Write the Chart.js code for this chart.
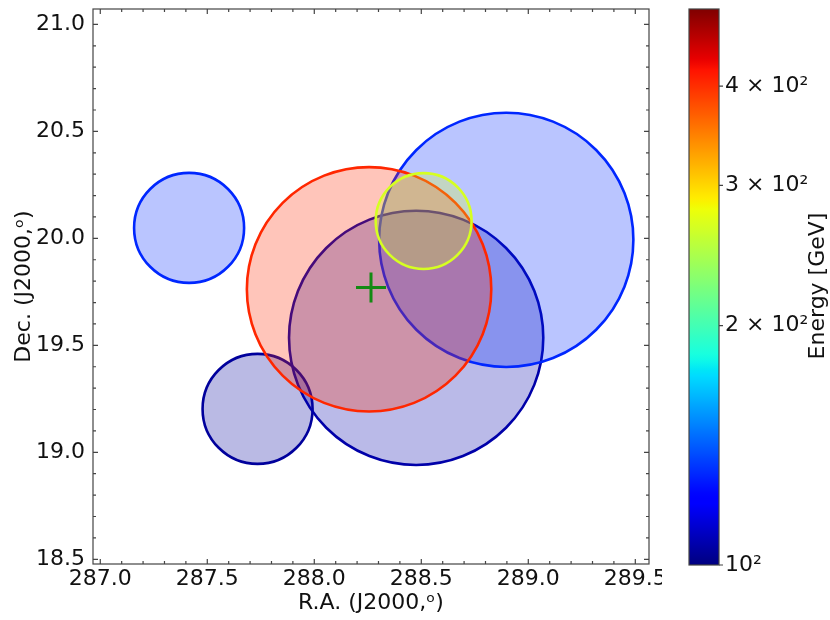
<!DOCTYPE html>
<html>
<head>
<meta charset="utf-8">
<script src="https://cdn.jsdelivr.net/npm/chart.js@4.4.0/dist/chart.umd.min.js"></script>
<style>
  body { margin: 0; background: #fff; }
  #wrap { position: relative; width: 830px; height: 620px; }
  #main { position: absolute; left: 0; top: 0; width: 662px; height: 620px; }
  #cbar { position: absolute; left: 662px; top: 0; width: 168px; height: 620px; }
</style>
</head>
<body>
<div id="wrap">
  <div id="main"><canvas id="skyChart"></canvas></div>
  <div id="cbar"><canvas id="energyBar"></canvas></div>
</div>
<script>
// event regions: centre (deg), radius (deg) and energy (GeV), in drawing order
const raCentres  = [287.415, 287.735, 288.476, 288.897, 288.256, 288.511];
const decCentres = [20.049, 19.203, 19.535, 19.993, 19.762, 20.081];
const radii      = [0.257, 0.257, 0.594, 0.594, 0.571, 0.224];
const energies   = [130, 104, 106, 130, 405, 267];

// source position
const srcRa  = [288.265];
const srcDec = [19.770];

// axis ranges
const raMin = 286.966, raMax = 289.564;
const decMin = 18.478, decMax = 21.072;

// colour bar
const eMin = 100, eMax = 500;
const cbarTicks  = [100, 200, 300, 400];
const cbarLabels = ['10²', '2 × 10²', '3 × 10²', '4 × 10²'];

Chart.defaults.font.family = '"DejaVu Sans", sans-serif';
Chart.defaults.font.size = 22;
Chart.defaults.color = '#111';

// matplotlib "jet" segment data
const jetData = {
  r: [[0, 0], [0.35, 0], [0.66, 1], [0.89, 1], [1, 0.5]],
  g: [[0, 0], [0.125, 0], [0.375, 1], [0.64, 1], [0.91, 0], [1, 0]],
  b: [[0, 0.5], [0.11, 1], [0.34, 1], [0.65, 0], [1, 0]]
};

function segment(pts, t) {
  for (let i = 1; i < pts.length; i++) {
    if (t <= pts[i][0]) {
      const [t0, v0] = pts[i - 1], [t1, v1] = pts[i];
      return v0 + (v1 - v0) * (t - t0) / (t1 - t0);
    }
  }
  return pts[pts.length - 1][1];
}

function jet(t, alpha) {
  t = Math.min(1, Math.max(0, t || 0));
  const r = Math.round(255 * segment(jetData.r, t));
  const g = Math.round(255 * segment(jetData.g, t));
  const b = Math.round(255 * segment(jetData.b, t));
  return `rgba(${r}, ${g}, ${b}, ${alpha})`;
}

const logNorm = e => Math.log(e / eMin) / Math.log(eMax / eMin);

function majorLabel(value) {
  const h = value * 2;
  return Math.abs(h - Math.round(h)) < 1e-6 ? value.toFixed(1) : '';
}

// radius in degrees -> pixels along the R.A. axis
function radiusPx(chart, i) {
  const xs = chart.scales.x;
  if (!xs || i === undefined) return 0;
  const r = Math.abs(xs.getPixelForValue(raCentres[i] + radii[i]) - xs.getPixelForValue(raCentres[i]));
  return isFinite(r) ? r : 0;
}

function noScalePadding(s) {
  s.paddingTop = 0; s.paddingBottom = 0; s.paddingLeft = 0; s.paddingRight = 0;
}

// box frame with inward major/minor ticks on all four sides
const frameTicks = {
  id: 'frameTicks',
  afterDraw(chart) {
    const { ctx, chartArea: a, scales } = chart;
    ctx.save();
    ctx.strokeStyle = '#444';
    ctx.lineWidth = 1.2;
    ctx.beginPath();
    scales.x.ticks.forEach(t => {
      const px = scales.x.getPixelForValue(t.value);
      const len = t.label ? 5 : 3;
      ctx.moveTo(px, a.bottom); ctx.lineTo(px, a.bottom - len);
      ctx.moveTo(px, a.top); ctx.lineTo(px, a.top + len);
    });
    scales.y.ticks.forEach(t => {
      const py = scales.y.getPixelForValue(t.value);
      const len = t.label ? 5 : 3;
      ctx.moveTo(a.left, py); ctx.lineTo(a.left + len, py);
      ctx.moveTo(a.right, py); ctx.lineTo(a.right - len, py);
    });
    ctx.stroke();
    ctx.strokeRect(a.left, a.top, a.right - a.left, a.bottom - a.top);
    ctx.restore();
  }
};

new Chart(document.getElementById('skyChart'), {
  type: 'scatter',
  data: {
    datasets: [
      {
        order: 0,
        data: srcRa.map((x, i) => ({ x, y: srcDec[i] })),
        pointStyle: 'cross',
        pointRadius: 15,
        pointBorderWidth: 3,
        pointBorderColor: '#138a13'
      },
      {
        order: 1,
        data: raCentres.map((x, i) => ({ x, y: decCentres[i] })),
        pointStyle: 'circle',
        pointRadius: ctx => radiusPx(ctx.chart, ctx.dataIndex),
        pointBackgroundColor: ctx => jet(logNorm(energies[ctx.dataIndex]), 0.27),
        pointBorderColor: ctx => jet(logNorm(energies[ctx.dataIndex]), 1),
        pointBorderWidth: 2.6
      }
    ]
  },
  options: {
    responsive: true,
    maintainAspectRatio: false,
    animation: false,
    events: [],
    layout: { autoPadding: false, padding: { top: 9, right: 13, left: 0, bottom: 0 } },
    plugins: { legend: { display: false }, tooltip: { enabled: false } },
    scales: {
      x: {
        type: 'linear',
        position: 'bottom',
        min: raMin,
        max: raMax,
        grid: { display: false, drawTicks: false },
        border: { display: false },
        ticks: { stepSize: 0.1, autoSkip: false, includeBounds: false, maxRotation: 0, padding: 2, callback: majorLabel },
        title: { display: true, text: 'R.A. (J2000,ᵒ)', padding: { top: 0, bottom: 4 } },
        afterFit: s => { s.height = 56; noScalePadding(s); }
      },
      y: {
        type: 'linear',
        position: 'left',
        min: decMin,
        max: decMax,
        grid: { display: false, drawTicks: false },
        border: { display: false },
        ticks: { stepSize: 0.1, autoSkip: false, includeBounds: false, padding: 8, callback: majorLabel },
        title: { display: true, text: 'Dec. (J2000,ᵒ)', padding: { top: 11, bottom: 0 } },
        afterFit: s => { s.width = 93; noScalePadding(s); }
      }
    }
  },
  plugins: [frameTicks]
});

// jet gradient, border, ticks and label of the colour bar
const colourBar = {
  id: 'colourBar',
  beforeDraw(chart) {
    const { ctx, chartArea: a } = chart;
    const grad = ctx.createLinearGradient(0, a.bottom, 0, a.top);
    for (let i = 0; i <= 100; i++) grad.addColorStop(i / 100, jet(i / 100, 1));
    ctx.save();
    ctx.fillStyle = grad;
    ctx.fillRect(a.left, a.top, a.right - a.left, a.bottom - a.top);
    ctx.restore();
  },
  afterDraw(chart) {
    const { ctx, chartArea: a, scales } = chart;
    ctx.save();
    ctx.strokeStyle = '#444';
    ctx.lineWidth = 1.2;
    ctx.strokeRect(a.left, a.top, a.right - a.left, a.bottom - a.top);
    ctx.beginPath();
    scales.y.ticks.forEach(t => {
      const py = scales.y.getPixelForValue(t.value);
      ctx.moveTo(a.right, py); ctx.lineTo(a.right + 4, py);
    });
    ctx.stroke();
    ctx.translate(a.right + 99, (a.top + a.bottom) / 2 - 1);
    ctx.rotate(-Math.PI / 2);
    ctx.fillStyle = '#111';
    ctx.font = '22px "DejaVu Sans", sans-serif';
    ctx.textAlign = 'center';
    ctx.textBaseline = 'middle';
    ctx.fillText('Energy [GeV]', 0, 0);
    ctx.restore();
  }
};

new Chart(document.getElementById('energyBar'), {
  type: 'scatter',
  data: { datasets: [] },
  options: {
    responsive: true,
    maintainAspectRatio: false,
    animation: false,
    events: [],
    layout: { padding: { left: 27, top: 9, right: 0, bottom: 55 } },
    plugins: { legend: { display: false }, tooltip: { enabled: false } },
    scales: {
      x: { type: 'linear', display: false, min: 0, max: 1 },
      y: {
        type: 'logarithmic',
        position: 'right',
        min: eMin,
        max: eMax,
        grid: { display: false, drawTicks: false },
        border: { display: false },
        afterBuildTicks: s => { s.ticks = cbarTicks.map(v => ({ value: v })); },
        ticks: { autoSkip: false, padding: 6, callback: v => cbarLabels[cbarTicks.indexOf(v)] },
        afterFit: s => { s.width = 111; noScalePadding(s); }
      }
    }
  },
  plugins: [colourBar]
});
</script>
</body>
</html>
